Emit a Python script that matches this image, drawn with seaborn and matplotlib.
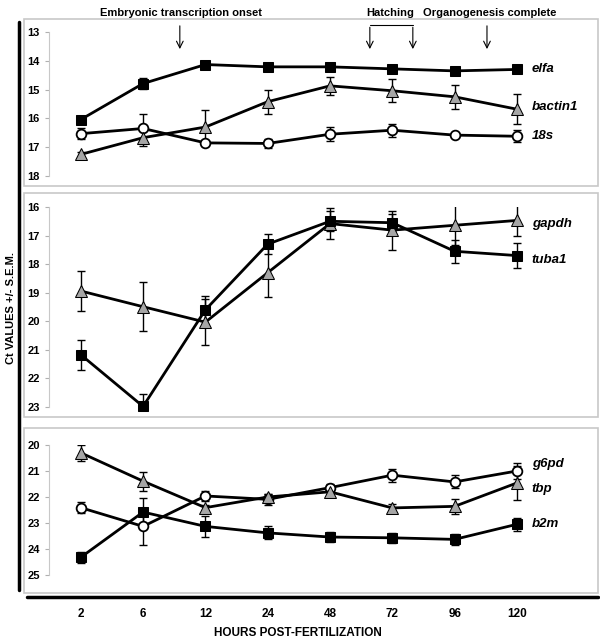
import matplotlib
matplotlib.use("Agg")
import matplotlib.pyplot as plt
from matplotlib.patches import Rectangle
from matplotlib.lines import Line2D
import numpy as np
import pandas as pd
import seaborn as sns

sns.set_style("white")
plt.rcParams['font.family'] = ['Liberation Sans', 'DejaVu Sans']
plt.rcParams['text.color'] = 'black'
plt.rcParams['ytick.labelcolor'] = 'black'
plt.rcParams['xtick.labelcolor'] = 'black'

hours = ['2', '6', '12', '24', '48', '72', '96', '120']

# top panel
elfa = [16.04, 14.79, 14.13, 14.21, 14.21, 14.28, 14.35, 14.30]
elfa_err = [0.07, 0.2, 0.05, 0.05, 0.05, 0.05, 0.05, 0.05]
bactin1 = [17.25, 16.67, 16.30, 15.42, 14.87, 15.04, 15.25, 15.68]
bactin1_err = [0.08, 0.3, 0.6, 0.42, 0.32, 0.4, 0.42, 0.52]
s18 = [16.53, 16.35, 16.85, 16.87, 16.55, 16.41, 16.58, 16.62]
s18_err = [0.2, 0.5, 0.1, 0.15, 0.25, 0.22, 0.05, 0.2]

# middle panel
gapdh = [18.94, 19.49, 20.03, 18.30, 16.58, 16.81, 16.64, 16.47]
gapdh_err = [0.7, 0.86, 0.8, 0.85, 0.55, 0.68, 0.7, 0.55]
tuba1 = [21.17, 22.98, 19.60, 17.30, 16.50, 16.55, 17.55, 17.70]
tuba1_err = [0.52, 0.45, 0.5, 0.35, 0.35, 0.3, 0.4, 0.45]

# bottom panel
g6pd = [22.41, 23.13, 21.96, 22.09, 21.64, 21.16, 21.42, 21.00]
g6pd_err = [0.22, 0.7, 0.2, 0.2, 0.15, 0.25, 0.25, 0.3]
tbp = [20.30, 21.39, 22.41, 22.00, 21.80, 22.42, 22.36, 21.46]
tbp_err = [0.3, 0.37, 0.1, 0.1, 0.1, 0.15, 0.28, 0.65]
b2m = [24.32, 22.58, 23.13, 23.38, 23.54, 23.57, 23.63, 23.05]
b2m_err = [0.2, 0.55, 0.4, 0.25, 0.2, 0.2, 0.2, 0.25]

W, H = 600, 640
fig = plt.figure(figsize=(6, 6.4), dpi=100)

def fx(px):
    return px / W

def fy(py):
    return 1 - py / H

styles = {
    'square': dict(marker='s', markersize=7, markerfacecolor='black', markeredgecolor='black'),
    'triangle': dict(marker='^', markersize=8, markerfacecolor='#a6a6a6', markeredgecolor='black'),
    'circle': dict(marker='o', markersize=7, markerfacecolor='white', markeredgecolor='black', markeredgewidth=1.3),
}

def make_axes(top_px, bottom_px, ylim, box):
    ax = fig.add_axes([fx(49), fy(bottom_px), fx(596) - fx(49), (bottom_px - top_px) / H])
    ax.set_facecolor('none')
    ax.set_xlim(-0.51, 8.27)
    ax.set_ylim(ylim[1], ylim[0])
    ax.set_yticks(range(ylim[0], ylim[1] + 1))
    for s in ['top', 'right', 'bottom']:
        ax.spines[s].set_visible(False)
    ax.spines['left'].set_color('#c8c8c8')
    ax.spines['left'].set_linewidth(0.8)
    ax.tick_params(axis='y', length=3, color='#b0b0b0', labelsize=8, pad=3.5, left=True)
    for t in ax.get_yticklabels():
        t.set_fontweight('bold')
    ax.set_xticks([])
    x0, y0, x1, y1 = box
    fig.patches.append(Rectangle((fx(x0), fy(y1)), fx(x1) - fx(x0), fy(y0) - fy(y1),
                                 transform=fig.transFigure, fill=False,
                                 edgecolor='#c8c8c8', linewidth=1.2))
    return ax

def draw_series(ax, vals, errs, style, label, label_y):
    df = pd.DataFrame({'x': np.arange(len(hours)), 'y': vals})
    ax.errorbar(df['x'], df['y'], yerr=errs, fmt='none', ecolor='black',
                elinewidth=1, capsize=3, capthick=1, zorder=2)
    sns.lineplot(data=df, x='x', y='y', ax=ax, color='black', linewidth=2,
                 clip_on=False, zorder=3, **styles[style])
    ax.text(7.24, label_y, label, fontsize=9.5, fontweight='bold',
            fontstyle='italic', va='center', ha='left', color='black')

ax1 = make_axes(32, 176, (13, 18), (24, 19, 598, 186))
draw_series(ax1, s18, s18_err, 'circle', '18s', 16.6)
draw_series(ax1, bactin1, bactin1_err, 'triangle', 'bactin1', 15.62)
draw_series(ax1, elfa, elfa_err, 'square', 'elfa', 14.3)

ax2 = make_axes(207, 407, (16, 23), (24, 193, 598, 417))
draw_series(ax2, gapdh, gapdh_err, 'triangle', 'gapdh', 16.58)
draw_series(ax2, tuba1, tuba1_err, 'square', 'tuba1', 17.86)

ax3 = make_axes(445, 575, (20, 25), (24, 428, 598, 593))
draw_series(ax3, g6pd, g6pd_err, 'circle', 'g6pd', 20.73)
draw_series(ax3, tbp, tbp_err, 'triangle', 'tbp', 21.68)
draw_series(ax3, b2m, b2m_err, 'square', 'b2m', 23.05)

for ax in (ax1, ax2, ax3):
    ax.set_xlabel('')
    ax.set_ylabel('')

ax3.set_xticks(range(len(hours)))
ax3.set_xticklabels(hours, fontsize=8.5, fontweight='bold')
ax3.tick_params(axis='x', length=0, pad=24)

# developmental stage arrows
arrow = dict(arrowstyle='->', color='black', lw=0.8, mutation_scale=12)
ax1.annotate('', xy=(1.59, 13.69), xytext=(1.59, 12.69), arrowprops=arrow, annotation_clip=False)
ax1.annotate('', xy=(6.52, 13.69), xytext=(6.52, 12.69), arrowprops=arrow, annotation_clip=False)
ax1.annotate('', xy=(4.64, 13.69), xytext=(4.64, 12.74), arrowprops=arrow, annotation_clip=False)
ax1.annotate('', xy=(5.33, 13.69), xytext=(5.33, 12.74), arrowprops=arrow, annotation_clip=False)
ax1.plot([4.64, 5.33], [12.74, 12.74], color='black', lw=0.8, clip_on=False)

fig.text(fx(181), fy(13), 'Embryonic transcription onset', fontsize=8, fontweight='bold', ha='center', va='center')
fig.text(fx(390), fy(13), 'Hatching', fontsize=8, fontweight='bold', ha='center', va='center')
fig.text(fx(490), fy(13), 'Organogenesis complete', fontsize=8, fontweight='bold', ha='center', va='center')

# frame lines and axis titles
fig.lines.append(Line2D([fx(19), fx(19)], [fy(22), fy(590)], transform=fig.transFigure, color='black', lw=2.5))
fig.lines.append(Line2D([fx(27), fx(598)], [fy(597), fy(597)], transform=fig.transFigure, color='black', lw=2.5))
fig.text(fx(11), fy(308), 'Ct VALUES +/- S.E.M.', rotation=90, fontsize=8, fontweight='bold', ha='center', va='center')
fig.text(fx(298), fy(633), 'HOURS POST-FERTILIZATION', fontsize=8.5, fontweight='bold', ha='center', va='center')

fig.savefig('out.png', dpi=100)
